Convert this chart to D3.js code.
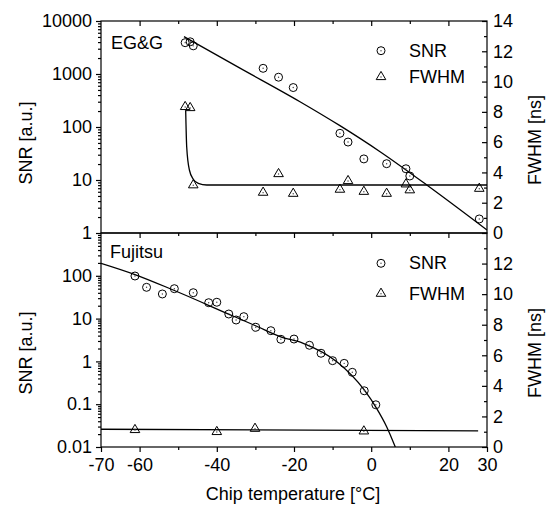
<!DOCTYPE html>
<html>
<head>
<meta charset="utf-8">
<script src="https://cdn.jsdelivr.net/npm/d3@7"></script>
<style>
  body { margin: 0; background: #fff; }
  text { font-family: Arial, "Liberation Sans", sans-serif; font-size: 18px; fill: #000; }
</style>
</head>
<body>
<div class="chart"></div>
<script>
// tick values
var tempTicks = [-70, -60, -40, -20, 0, 20, 30];
var tempMinor = [-50, -30, -10, 10];
var snrTicksTop = [1, 10, 100, 1000, 10000];
var snrTicksBottom = [0.01, 0.1, 1, 10, 100];
var fwhmTicksTop = [0, 2, 4, 6, 8, 10, 12, 14];
var fwhmTicksBottom = [0, 2, 4, 6, 8, 10, 12];
var fwhmMinor = [1, 3, 5, 7, 9, 11, 13];

// EG&G (top panel)
var egSnrT = [-48.2, -46.9, -46.1, -28.0, -24.0, -20.2, -8.1, -6.0, -1.9, 4.0, 9.0, 10.0, 28.0];
var egSnr = [3900, 4050, 3400, 1280, 870, 555, 76, 52, 25, 20.3, 16.3, 11.9, 1.84];
var egFwhmT = [-48.2, -46.9, -46.1, -28.0, -24.0, -20.2, -8.1, -6.0, -1.9, 4.0, 9.0, 10.0, 28.0];
var egFwhm = [8.39, 8.32, 3.22, 2.73, 3.96, 2.66, 2.93, 3.50, 2.79, 2.66, 3.28, 2.89, 2.99];
var egSnrFitT = [-48.5, -34.0, -18.45, -8.1, 2.3, 14.4, 30];
var egSnrFit = [5060, 1290, 300, 106, 34.2, 8.05, 1.14];
var egFwhmFitT = [-48.06, -47.8, -47.1, -46.1, -44.8, -42.6, 30];
var egFwhmFit = [8.08, 5.70, 4.16, 3.55, 3.28, 3.17, 3.17];

// Fujitsu (bottom panel)
var fuSnrT = [-61.2, -58.2, -54.1, -51.0, -46.1, -42.1, -40.0, -36.9, -35.0, -33.0, -29.9, -26.0, -23.4, -20.0, -16.0, -13.0, -10.0, -7.0, -4.9, -1.8, 1.2];
var fuSnr = [98.9, 53.8, 37.6, 50, 40.3, 23.5, 24.1, 12.8, 9.27, 11.1, 6.27, 5.22, 3.28, 3.33, 2.38, 1.55, 1.04, 0.90, 0.556, 0.206, 0.097];
var fuFwhmT = [-61.2, -40.0, -30.1, -1.9];
var fuFwhm = [1.18, 1.05, 1.26, 1.09];
var fuSnrFitT = [-70, -61.2, -51.3, -35.8, -30.1, -23.6, -17.6, -8.9, -1.8, 1.4, 4.0, 6.24];
var fuSnrFit = [196, 107, 46.6, 11.5, 6.9, 3.78, 2.65, 0.98, 0.215, 0.080, 0.0298, 0.01];
var fuFwhmFitT = [-70, 27.7];
var fuFwhmFit = [1.16, 1.05];

var svgWidth = 549;
var svgHeight = 506;
var plotLeft = 101, plotRight = 487, plotTop = 21, plotMid = 233, plotBottom = 447;

var svg = d3.select(".chart").append("svg")
  .attr("width", svgWidth)
  .attr("height", svgHeight);

var x = d3.scaleLinear().domain([-70, 30]).range([plotLeft, plotRight]);
var yTop = d3.scaleLog().domain([1, 10000]).range([plotMid, plotTop]);
var yTopR = d3.scaleLinear().domain([0, 14]).range([plotMid, plotTop]);
var yBot = d3.scaleLog().domain([0.01, 1000]).range([plotBottom, plotMid]);
var yBotR = d3.scaleLinear().domain([0, 14]).range([plotBottom, plotMid]);

var plain = function(d) { return String(d); };

function logMinor(lo, hi) {
  var out = [];
  for (var e = lo; e < hi; e++) {
    for (var k = 2; k <= 9; k++) out.push(k * Math.pow(10, e));
  }
  return out;
}

function styleAxis(g) {
  g.selectAll("path.domain").remove();
  g.selectAll("line").attr("stroke", "#000").attr("stroke-width", 1.2);
  g.selectAll("text").attr("font-size", null).attr("font-family", null);
}

function addAxis(axis, tx, ty) {
  var g = svg.append("g").attr("transform", "translate(" + tx + "," + ty + ")").call(axis);
  styleAxis(g);
  return g;
}

// frames
[[plotTop, plotMid], [plotMid, plotBottom]].forEach(function(p) {
  svg.append("rect")
    .attr("x", plotLeft).attr("y", p[0])
    .attr("width", plotRight - plotLeft).attr("height", p[1] - p[0])
    .attr("fill", "none").attr("stroke", "#000").attr("stroke-width", 1.2);
});

// left log axes
addAxis(d3.axisLeft(yTop).tickValues(snrTicksTop).tickFormat(plain).tickSize(5).tickPadding(4), plotLeft, 0);
addAxis(d3.axisLeft(yTop).tickValues(logMinor(0, 4)).tickFormat("").tickSize(3), plotLeft, 0);
addAxis(d3.axisLeft(yBot).tickValues(snrTicksBottom).tickFormat(plain).tickSize(5).tickPadding(4), plotLeft, 0);
addAxis(d3.axisLeft(yBot).tickValues(logMinor(-2, 3)).tickFormat("").tickSize(3), plotLeft, 0);

// right linear axes (ticks inside)
addAxis(d3.axisRight(yTopR).tickValues(fwhmTicksTop).tickFormat(plain).tickSize(-5).tickPadding(6), plotRight, 0);
addAxis(d3.axisRight(yTopR).tickValues(fwhmMinor).tickFormat("").tickSize(-3), plotRight, 0);
addAxis(d3.axisRight(yBotR).tickValues(fwhmTicksBottom).tickFormat(plain).tickSize(-5).tickPadding(6), plotRight, 0);
addAxis(d3.axisRight(yBotR).tickValues(fwhmMinor).tickFormat("").tickSize(-3), plotRight, 0);

// x axes
addAxis(d3.axisBottom(x).tickValues(tempTicks).tickFormat(plain).tickSize(5).tickPadding(6), 0, plotBottom);
addAxis(d3.axisBottom(x).tickValues(tempMinor).tickFormat("").tickSize(3), 0, plotBottom);
addAxis(d3.axisBottom(x).tickValues(tempTicks.slice(1, -1)).tickFormat("").tickSize(5), 0, plotMid);
addAxis(d3.axisBottom(x).tickValues(tempMinor).tickFormat("").tickSize(3), 0, plotMid);
addAxis(d3.axisTop(x).tickValues(tempTicks.slice(1, -1)).tickFormat("").tickSize(-5), 0, plotTop);
addAxis(d3.axisTop(x).tickValues(tempMinor).tickFormat("").tickSize(-3), 0, plotTop);

// clip paths
var defs = svg.append("defs");
defs.append("clipPath").attr("id", "clipTop").append("rect")
  .attr("x", plotLeft).attr("y", plotTop).attr("width", plotRight - plotLeft).attr("height", plotMid - plotTop);
defs.append("clipPath").attr("id", "clipBot").append("rect")
  .attr("x", plotLeft).attr("y", plotMid).attr("width", plotRight - plotLeft).attr("height", plotBottom - plotMid);

function zip(a, b) { return a.map(function(v, i) { return [v, b[i]]; }); }

function fitLine(ts, vs, ys, clip) {
  var line = d3.line()
    .x(function(d) { return x(d[0]); })
    .y(function(d) { return ys(d[1]); })
    .curve(d3.curveMonotoneX);
  svg.append("path")
    .datum(zip(ts, vs))
    .attr("clip-path", "url(#" + clip + ")")
    .attr("d", line)
    .attr("fill", "none")
    .attr("stroke", "#000")
    .attr("stroke-width", 1.3);
}

var triPath = "M0,-4.6L4.8,3.6L-4.8,3.6Z";

function circleMark(g, cx, cy) {
  g.append("circle").attr("cx", cx).attr("cy", cy).attr("r", 4)
    .attr("fill", "none").attr("stroke", "#000").attr("stroke-width", 1);
  g.append("circle").attr("cx", cx).attr("cy", cy).attr("r", 0.7).attr("fill", "#444");
}

function triMark(g, cx, cy) {
  g.append("path").attr("d", triPath).attr("transform", "translate(" + cx + "," + cy + ")")
    .attr("fill", "none").attr("stroke", "#000").attr("stroke-width", 1);
  g.append("circle").attr("cx", cx).attr("cy", cy + 1).attr("r", 0.7).attr("fill", "#444");
}

function points(ts, vs, ys, kind) {
  var g = svg.append("g");
  zip(ts, vs).forEach(function(d) {
    if (kind === "circle") circleMark(g, x(d[0]), ys(d[1]));
    else triMark(g, x(d[0]), ys(d[1]));
  });
}

// top panel
fitLine(egSnrFitT, egSnrFit, yTop, "clipTop");
fitLine(egFwhmFitT, egFwhmFit, yTopR, "clipTop");
points(egSnrT, egSnr, yTop, "circle");
points(egFwhmT, egFwhm, yTopR, "tri");

// bottom panel
fitLine(fuSnrFitT, fuSnrFit, yBot, "clipBot");
fitLine(fuFwhmFitT, fuFwhmFit, yBotR, "clipBot");
points(fuSnrT, fuSnr, yBot, "circle");
points(fuFwhmT, fuFwhm, yBotR, "tri");

// panel labels
svg.append("text").attr("x", 111).attr("y", 49).text("EG&G");
svg.append("text").attr("x", 110).attr("y", 258).text("Fujitsu");

// legends
function legend(y1, y2) {
  var g = svg.append("g");
  circleMark(g, 381, y1);
  triMark(g, 381, y2);
  g.append("text").attr("x", 409).attr("y", y1 + 6).text("SNR");
  g.append("text").attr("x", 409).attr("y", y2 + 7).text("FWHM");
}
legend(50.7, 76);
legend(263.3, 292.7);

// axis titles
function vTitle(tx, ty, label) {
  svg.append("text")
    .attr("transform", "translate(" + tx + "," + ty + ") rotate(-90)")
    .attr("text-anchor", "middle")
    .text(label);
}
vTitle(32, 143, "SNR [a.u.]");
vTitle(32, 353, "SNR [a.u.]");
vTitle(541, 140, "FWHM [ns]");
vTitle(541, 353, "FWHM [ns]");

svg.append("text")
  .attr("x", 293).attr("y", 500)
  .attr("text-anchor", "middle")
  .text("Chip temperature [°C]");
</script>
</body>
</html>
